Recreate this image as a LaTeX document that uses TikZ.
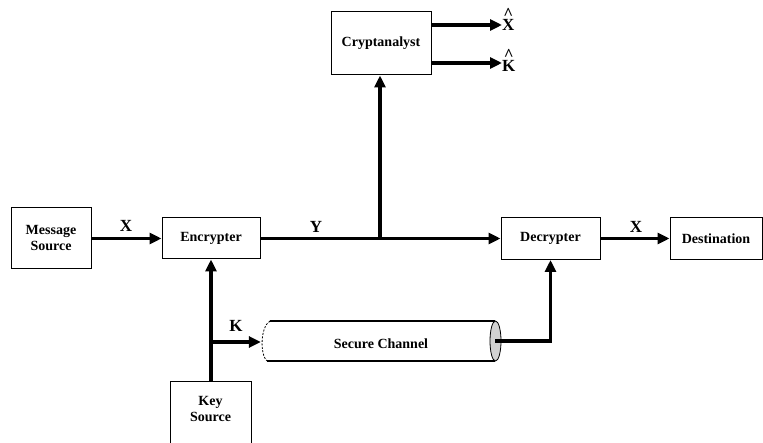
\documentclass[tikz,border=0pt]{standalone}
\usepackage{fontspec}
\setmainfont{Liberation Serif}
\usetikzlibrary{arrows.meta}
\begin{document}
\begin{tikzpicture}[x=1pt,y=-1pt,
  box/.style={draw, line width=1pt, inner sep=0pt, align=center,
    font=\fontsize{14}{16}\selectfont\bfseries},
  txt/.style={inner sep=0pt, align=center, font=\fontsize{14}{16}\selectfont\bfseries},
  flow/.style={line width=3.2pt, -{Triangle[length=12pt,width=11pt]}},
  sig/.style={inner sep=0pt, font=\fontsize{17}{19}\selectfont\bfseries},
  hatted/.style={inner sep=0pt, align=center, font=\fontsize{17}{19}\selectfont\bfseries}]
\useasboundingbox (0,0) rectangle (763,443);

% boxes
\node[box, minimum width=80pt, minimum height=61pt] (msg) at (51,238) {Message\\Source};
\node[box, minimum width=98pt, minimum height=41pt] (enc) at (211,238.5) {Encrypter};
\node[box, minimum width=99pt, minimum height=42pt] (dec) at (550.5,238.5) {Decrypter};
\node[box, minimum width=92pt, minimum height=42pt] (dst) at (716,238.5) {Destination};
\node[box, minimum width=100pt, minimum height=63pt] (crypt) at (381,43.5) {Cryptanalyst};
\node[box, minimum width=81pt, minimum height=64pt] (ks) at (210.5,414) {};
\node[txt] (kstext) at (210.5,409.5) {Key\\Source};

% secure channel drawn as a cylinder
\node[txt, minimum width=240pt, minimum height=40pt] (sc) at (381,344) {Secure Channel};
\draw[line width=0.8pt, dash pattern=on 2pt off 1.5pt]
  (270,321) .. controls (260,327) and (260,355) .. (267,361);
\draw[line width=2.4pt] (270,321) -- (495,321);
\draw[line width=1.7pt] (267,361) -- (495,361);
\draw[line width=0.8pt, fill=gray!35] (495.5,341) ellipse (5.5 and 20);

% main flow
\draw[flow] (msg.east |- enc.west) -- (enc.west);
\node[sig] (xin) at (126,226) {X};
\draw[flow] (enc.east) -- (dec.west);
\node[sig] (y) at (316,227) {Y};
\draw[flow] (dec.east) -- (dst.west);
\node[sig] (xout) at (636,227) {X};

% tap to the cryptanalyst
\coordinate (tap) at (380,238.5);
\draw[flow] (tap) -- (tap |- crypt.south);
\coordinate (xh) at (502,25);
\coordinate (kh) at (502,63);
\draw[flow] (crypt.east |- xh) -- (xh);
\draw[flow] (crypt.east |- kh) -- (kh);
\node[hatted, anchor=south west] (xhat) at (502,30.5) {\textasciicircum\\[-8pt]X};
\node[hatted, anchor=south west] (khat) at (502,71.5) {\textasciicircum\\[-8pt]K};

% key distribution
\draw[flow] (ks.north -| 211,0) -- (211,0 |- enc.south);
\coordinate (kb) at (211,342);
\draw[flow] (kb) -- (kb -| sc.west);
\node[sig] (k) at (236,326) {K};
\coordinate (scend) at (495,341);
\draw[flow] (scend) -| (dec.south);
\end{tikzpicture}
\end{document}
